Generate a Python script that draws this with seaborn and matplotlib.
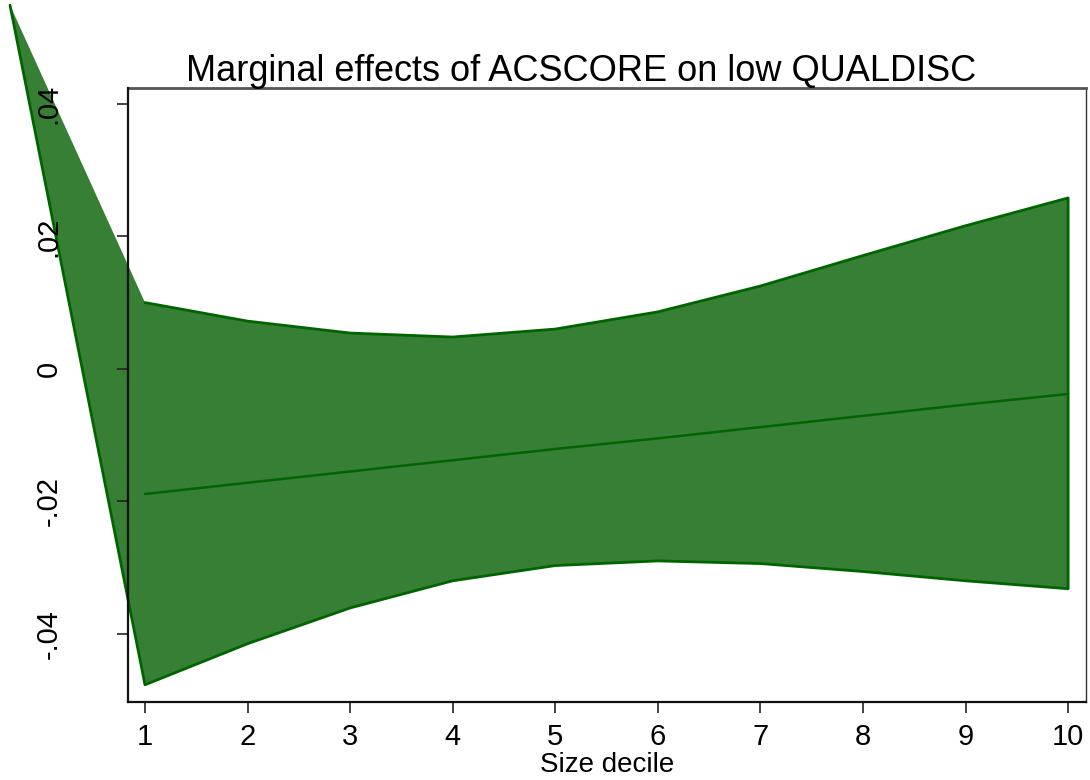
import numpy as np
import pandas as pd
import matplotlib
matplotlib.use('Agg')
import matplotlib.pyplot as plt
import seaborn as sns

# marginal effects by size decile
decile = [1, 2, 3, 4, 5, 6, 7, 8, 9, 10]
effect = [-0.0189, -0.0172, -0.0155, -0.0138, -0.0121, -0.0105, -0.0088, -0.0071, -0.0054, -0.0038]
upper = [0.0100, 0.0072, 0.0054, 0.0048, 0.0060, 0.0086, 0.0125, 0.0171, 0.0216, 0.0258]
lower = [-0.0477, -0.0415, -0.0361, -0.0320, -0.0297, -0.0290, -0.0294, -0.0306, -0.0320, -0.0332]
# stray point the original area plot starts from
tip_x = [-0.316]
tip_y = [0.0549]

ytick_vals = [-0.04, -0.02, 0, 0.02, 0.04]
ytick_labels = ['-.04', '-.02', '0', '.02', '.04']

fill_col = '#367f35'
line_col = '#006400'

sns.set_style('white')
plt.rcParams['font.family'] = ['Liberation Sans', 'DejaVu Sans']
plt.rcParams['text.color'] = 'black'
plt.rcParams['axes.labelcolor'] = 'black'
plt.rcParams['xtick.color'] = 'black'
plt.rcParams['ytick.color'] = 'black'

fig = plt.figure(figsize=(10.9, 7.8), dpi=100)
ax = fig.add_axes([0.1174, 0.1, 0.879, 0.7872])
ax.set_axisbelow(False)

# area outline path: tip -> lower bound -> upper bound reversed
path_x = tip_x + decile + decile[::-1]
path_y = tip_y + lower + upper[::-1]
ax.fill(path_x, path_y, color=fill_col, lw=0, clip_on=False, zorder=1)
ax.plot(path_x, path_y, color=line_col, lw=2, clip_on=False, zorder=2)

df = pd.DataFrame({'decile': decile, 'effect': effect})
sns.lineplot(data=df, x='decile', y='effect', color=line_col, lw=1.8, ax=ax, zorder=3)

ax.set_xlim(0.834, 10.175)
ax.set_ylim(-0.0503, 0.0424)
ax.set_xticks(decile)
ax.set_xticklabels([str(d) for d in decile], fontsize=21)
ax.set_yticks(ytick_vals)
ax.set_yticklabels(ytick_labels, fontsize=21, rotation=90, va='center')
ax.tick_params(axis='both', direction='out', length=8, width=1.2, color='#222222',
               bottom=True, left=True)
ax.tick_params(axis='x', pad=7)
ax.tick_params(axis='y', pad=39)
ax.xaxis.set_zorder(6)
ax.yaxis.set_zorder(6)

for side in ['left', 'bottom']:
    ax.spines[side].set_color('#111111')
    ax.spines[side].set_linewidth(1.6)
    ax.spines[side].set_zorder(7)
ax.spines['top'].set_color('#555555')
ax.spines['top'].set_linewidth(2)
ax.spines['right'].set_color('#333333')
ax.spines['right'].set_linewidth(1)

ax.set_xlabel('Size decile', fontsize=20, labelpad=1)
ax.set_ylabel('')
ax.set_title('Marginal effects of ACSCORE on low QUALDISC', fontsize=26, pad=5, x=0.473)

fig.savefig('out.png', dpi=100)
